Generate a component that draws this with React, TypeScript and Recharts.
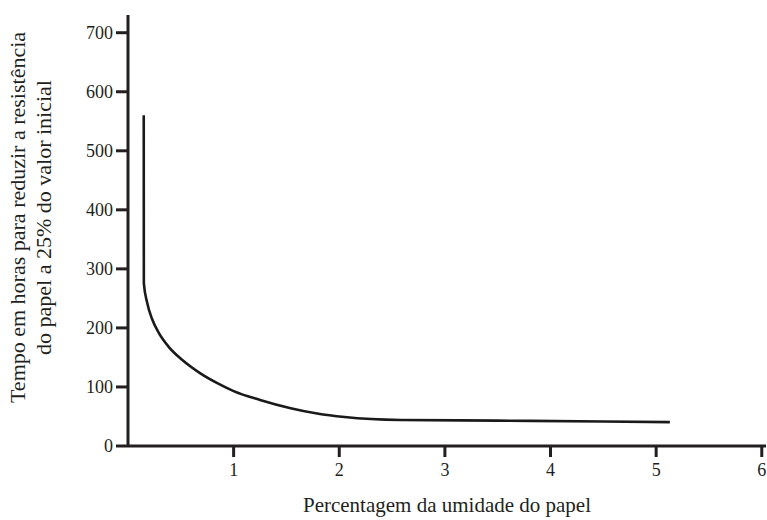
import React from "react";
import { LineChart, Line, XAxis, YAxis, Label } from "recharts";

const moisturePct = [0.149, 0.15, 0.181, 0.228, 0.29, 0.385, 0.512, 0.685, 0.85, 1.0, 1.25, 1.54, 1.79, 2.05, 2.58, 3.5, 4.5, 5.13];
const hours = [560, 276, 243, 215, 192, 168, 146, 123, 106, 93, 78, 64, 55, 49, 44, 43, 41.5, 40.5];
const xTicks = [1, 2, 3, 4, 5, 6];
const yTicks = [0, 100, 200, 300, 400, 500, 600, 700];

const xTitle = "Percentagem da umidade do papel";
const yTitle1 = "Tempo em horas para reduzir a resistência";
const yTitle2 = "do papel a 25% do valor inicial";

const data = moisturePct.map((x, i) => ({ x, y: hours[i] }));

const FONT = '"Liberation Serif", "Times New Roman", serif';
const INK = "#231f20";

const YTitle = (props: any) => {
  const vb = props.viewBox || {};
  const cy = vb.y + vb.height / 2 - 13;
  const x1 = 25;
  const x2 = 51;
  return (
    <g>
      <text x={x1} y={cy} transform={`rotate(-90, ${x1}, ${cy})`} textAnchor="middle" fontFamily={FONT} fontSize={22} fill={INK}>
        {yTitle1}
      </text>
      <text x={x2} y={cy} transform={`rotate(-90, ${x2}, ${cy})`} textAnchor="middle" fontFamily={FONT} fontSize={22} fill={INK}>
        {yTitle2}
      </text>
    </g>
  );
};

export default function App() {
  return (
    <div style={{ position: "absolute", left: 0, top: 0, width: 767, height: 520, background: "#fff" }}>
      <LineChart width={767} height={520} data={data} margin={{ top: 15, right: 1, bottom: 0, left: 0 }}>
        <XAxis
          dataKey="x"
          type="number"
          domain={[0, 6.04]}
          ticks={xTicks}
          allowDataOverflow
          axisLine={{ stroke: INK, strokeWidth: 3 }}
          tickLine={{ stroke: INK, strokeWidth: 3 }}
          tickSize={11}
          tickMargin={6}
          height={74}
          tick={{ fontFamily: FONT, fontSize: 18, fill: INK }}
        >
          <Label value={xTitle} position="insideBottom" offset={8} fontFamily={FONT} fontSize={21} fill={INK} />
        </XAxis>
        <YAxis
          type="number"
          domain={[0, 730]}
          ticks={yTicks}
          allowDataOverflow
          width={128}
          axisLine={{ stroke: INK, strokeWidth: 3 }}
          tickLine={{ stroke: INK, strokeWidth: 3 }}
          tickSize={12}
          tickMargin={3}
          tick={{ fontFamily: FONT, fontSize: 18, fill: INK }}
        >
          <Label content={<YTitle />} />
        </YAxis>
        <Line
          type="monotone"
          dataKey="y"
          stroke="#1a1a1a"
          strokeWidth={2.6}
          dot={false}
          isAnimationActive={false}
        />
      </LineChart>
    </div>
  );
}
